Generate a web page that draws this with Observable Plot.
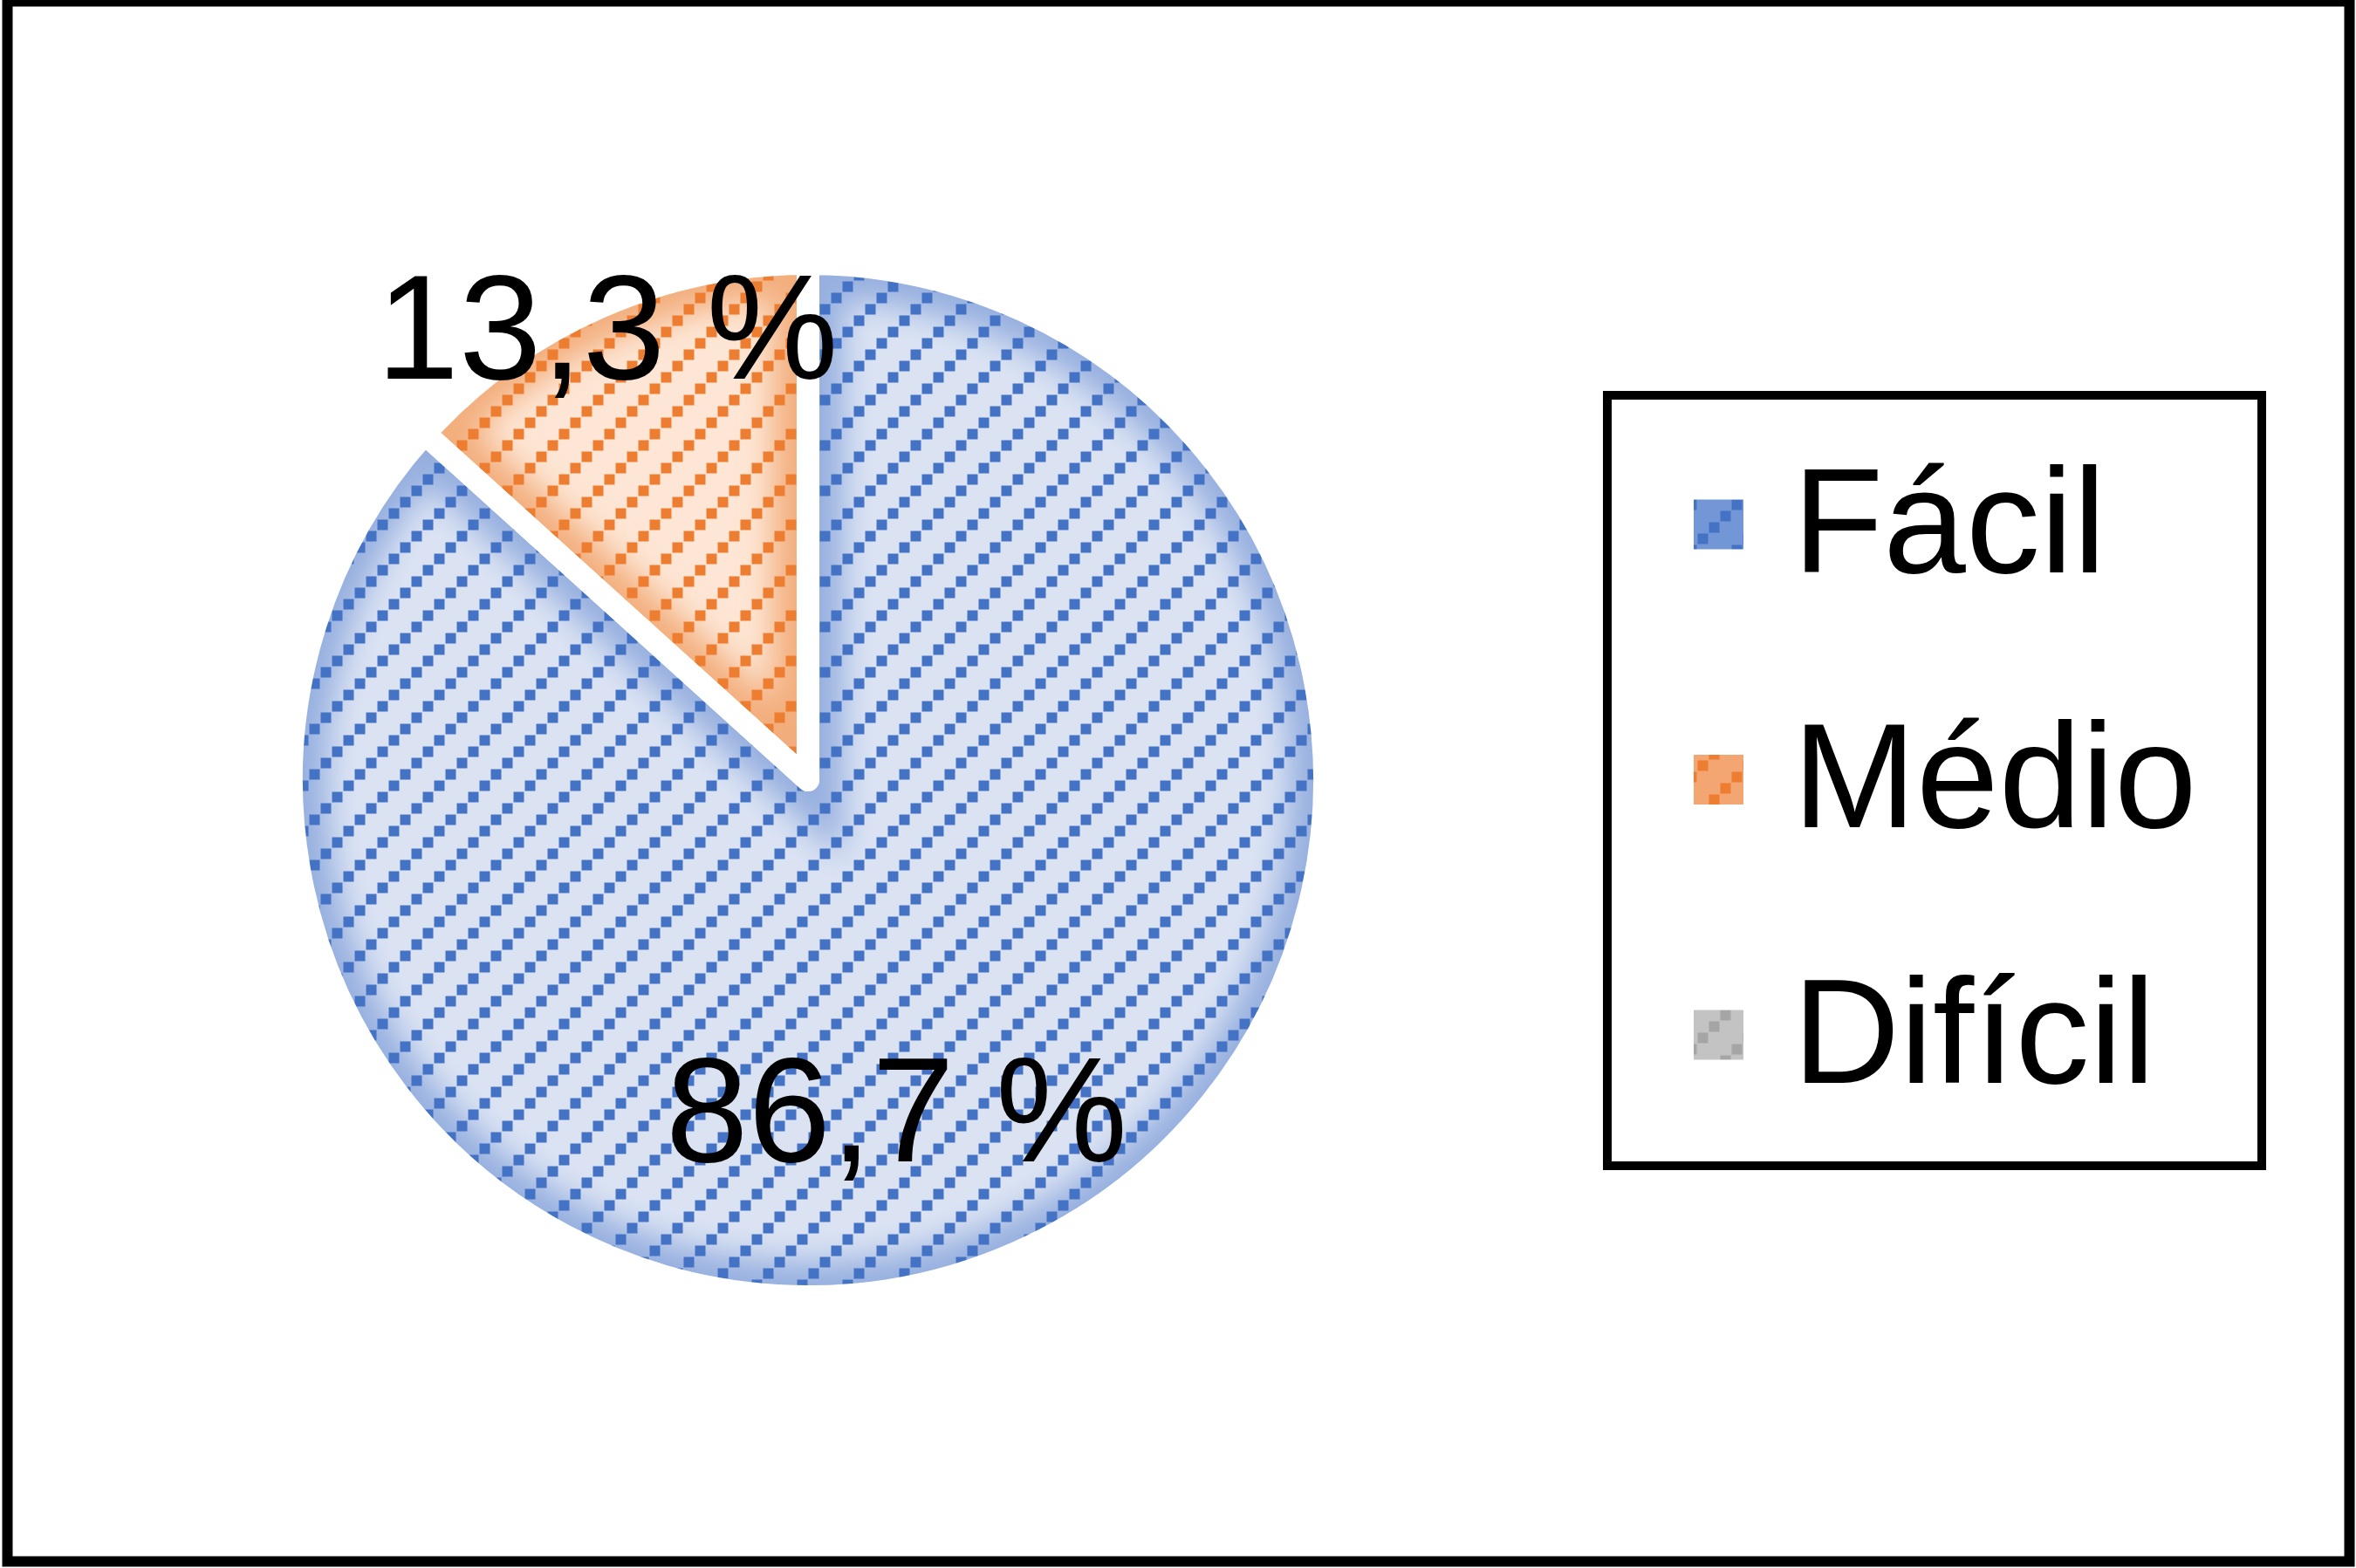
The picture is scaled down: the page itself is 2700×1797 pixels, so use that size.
<!DOCTYPE html>
<html>
<head>
<meta charset="utf-8">
<script src="https://cdn.jsdelivr.net/npm/d3@7"></script>
<script src="https://cdn.jsdelivr.net/npm/@observablehq/plot@0.6"></script>
<style>
  html, body { margin: 0; padding: 0; background: #ffffff; }
  #chart svg { display: block; }
</style>
</head>
<body>
<div id="chart"></div>
<script>
// ---- data ----
const categories = ["Fácil", "Médio", "Difícil"];
const values = [86.7, 13.3, 0];
const labels = ["86,7 %", "13,3 %", "0 %"];

// ---- styles ----
const dotColors = ["#4472c4", "#ed7d31", "#a5a5a5"];
const lightColors = ["#dbe3f3", "#fde6d5", "#e4e4e4"];
const edgeColors = ["#95afdf", "#f3ad7c", "#bcbcbc"];
const legendBg = ["#7397d6", "#f4a672", "#c3c3c3"];
const FONT = "'Liberation Sans', Arial, Helvetica, sans-serif";
const FS = 170;

// ---- layout ----
const W = 2700, H = 1797;
const pieLayout = {cx: 926, cy: 894, r: 592, border: 26};
const labelPlace = [{r: 0.667, dAngle: 9.1}, {r: 0.953, dAngle: -0.16}, {r: 0.9, dAngle: 0}];
const legendLayout = {x1: 1842, y1: 453, x2: 2592, y2: 1336, markerX: 1941, marker: 57, textX: 2054, firstY: 601, step: 292.5};

const rows = categories.map((c, i) => ({category: c, value: values[i], label: labels[i], i}));
const arcs = d3.pie().value(d => d.value).sort(null).startAngle(0).endAngle(2 * Math.PI)(rows);
const shown = arcs.filter(a => a.data.value > 0);

function labelPos(a) {
  const p = labelPlace[a.data.i];
  const ang = (a.startAngle + a.endAngle) / 2 + p.dAngle * Math.PI / 180;
  const rr = p.r * pieLayout.r;
  return [pieLayout.cx + rr * Math.sin(ang), pieLayout.cy - rr * Math.cos(ang)];
}

function pieMark(index, scales) {
  const g = d3.create("svg:g");
  const defs = g.append("defs");
  defs.append("filter").attr("id", "soft")
    .attr("x", "-50%").attr("y", "-50%").attr("width", "200%").attr("height", "200%")
    .append("feGaussianBlur").attr("stdDeviation", 18);
  const sq = [[0, 39], [13, 26], [26, 13], [39, 0]];
  categories.forEach((c, i) => {
    const p = defs.append("pattern").attr("id", `pat-${i}`)
      .attr("patternUnits", "userSpaceOnUse").attr("width", 52).attr("height", 52);
    sq.forEach(([x, y]) => p.append("rect").attr("x", x + 0.5).attr("y", y + 0.5)
      .attr("width", 12).attr("height", 12).attr("fill", dotColors[i]));
    const lp = defs.append("pattern").attr("id", `legpat-${i}`)
      .attr("patternUnits", "userSpaceOnUse").attr("width", 52).attr("height", 52)
      .attr("x", legendLayout.markerX + 4).attr("y", 0);
    lp.append("rect").attr("width", 52).attr("height", 52).attr("fill", legendBg[i]);
    sq.forEach(([x, y]) => lp.append("rect").attr("x", x + 0.5).attr("y", y + 0.5)
      .attr("width", 12).attr("height", 12).attr("fill", dotColors[i]));
  });

  const cx = scales.x(pieLayout.cx), cy = scales.y(pieLayout.cy);
  const r = scales.x(pieLayout.cx + pieLayout.r) - cx;
  const arcGen = d3.arc().innerRadius(0).outerRadius(r);
  const root = g.append("g").attr("transform", `translate(${cx},${cy})`);

  shown.forEach(a => {
    const i = a.data.i;
    const d = arcGen(a);
    defs.append("clipPath").attr("id", `clip-${i}`).append("path").attr("d", d);
    const inner = root.append("g").attr("clip-path", `url(#clip-${i})`);
    inner.append("path").attr("d", d).attr("fill", lightColors[i]);
    inner.append("path").attr("d", d).attr("fill", "none")
      .attr("stroke", edgeColors[i]).attr("stroke-width", 80).attr("filter", "url(#soft)");
    inner.append("path").attr("d", d).attr("fill", `url(#pat-${i})`);
  });
  shown.forEach(a => {
    root.append("path").attr("d", arcGen(a)).attr("fill", "none")
      .attr("stroke", "#ffffff").attr("stroke-width", pieLayout.border)
      .attr("stroke-linejoin", "round");
  });
  return g.node();
}

const legendBox = [legendLayout];

const chart = Plot.plot({
  width: W,
  height: H,
  margin: 0,
  x: {domain: [0, W], range: [0, W], axis: null},
  y: {domain: [0, H], range: [0, H], axis: null},
  color: {type: "identity"},
  style: {fontFamily: FONT, background: "#ffffff"},
  marks: [
    pieMark,
    Plot.text(shown, {
      x: a => labelPos(a)[0],
      y: a => labelPos(a)[1],
      text: a => a.data.label,
      fontSize: FS,
      fontFamily: FONT,
      fill: "#000000",
      textAnchor: "middle"
    }),
    Plot.rect(legendBox, {
      x1: "x1", x2: "x2", y1: "y1", y2: "y2",
      fill: "none", stroke: "#000000", strokeWidth: 10
    }),
    Plot.rect(rows, {
      x1: legendLayout.markerX,
      x2: legendLayout.markerX + legendLayout.marker,
      y1: d => legendLayout.firstY + d.i * legendLayout.step - legendLayout.marker / 2,
      y2: d => legendLayout.firstY + d.i * legendLayout.step + legendLayout.marker / 2,
      fill: d => `url(#legpat-${d.i})`
    }),
    Plot.text(rows, {
      x: legendLayout.textX,
      y: d => legendLayout.firstY + d.i * legendLayout.step,
      text: "category",
      textAnchor: "start",
      fontSize: FS,
      fontFamily: FONT,
      fill: "#000000"
    }),
    Plot.frame({stroke: "#000000", strokeWidth: 12, insetLeft: 8, insetTop: 1, insetRight: 8, insetBottom: 8})
  ]
});

document.getElementById("chart").appendChild(chart);
</script>
</body>
</html>
